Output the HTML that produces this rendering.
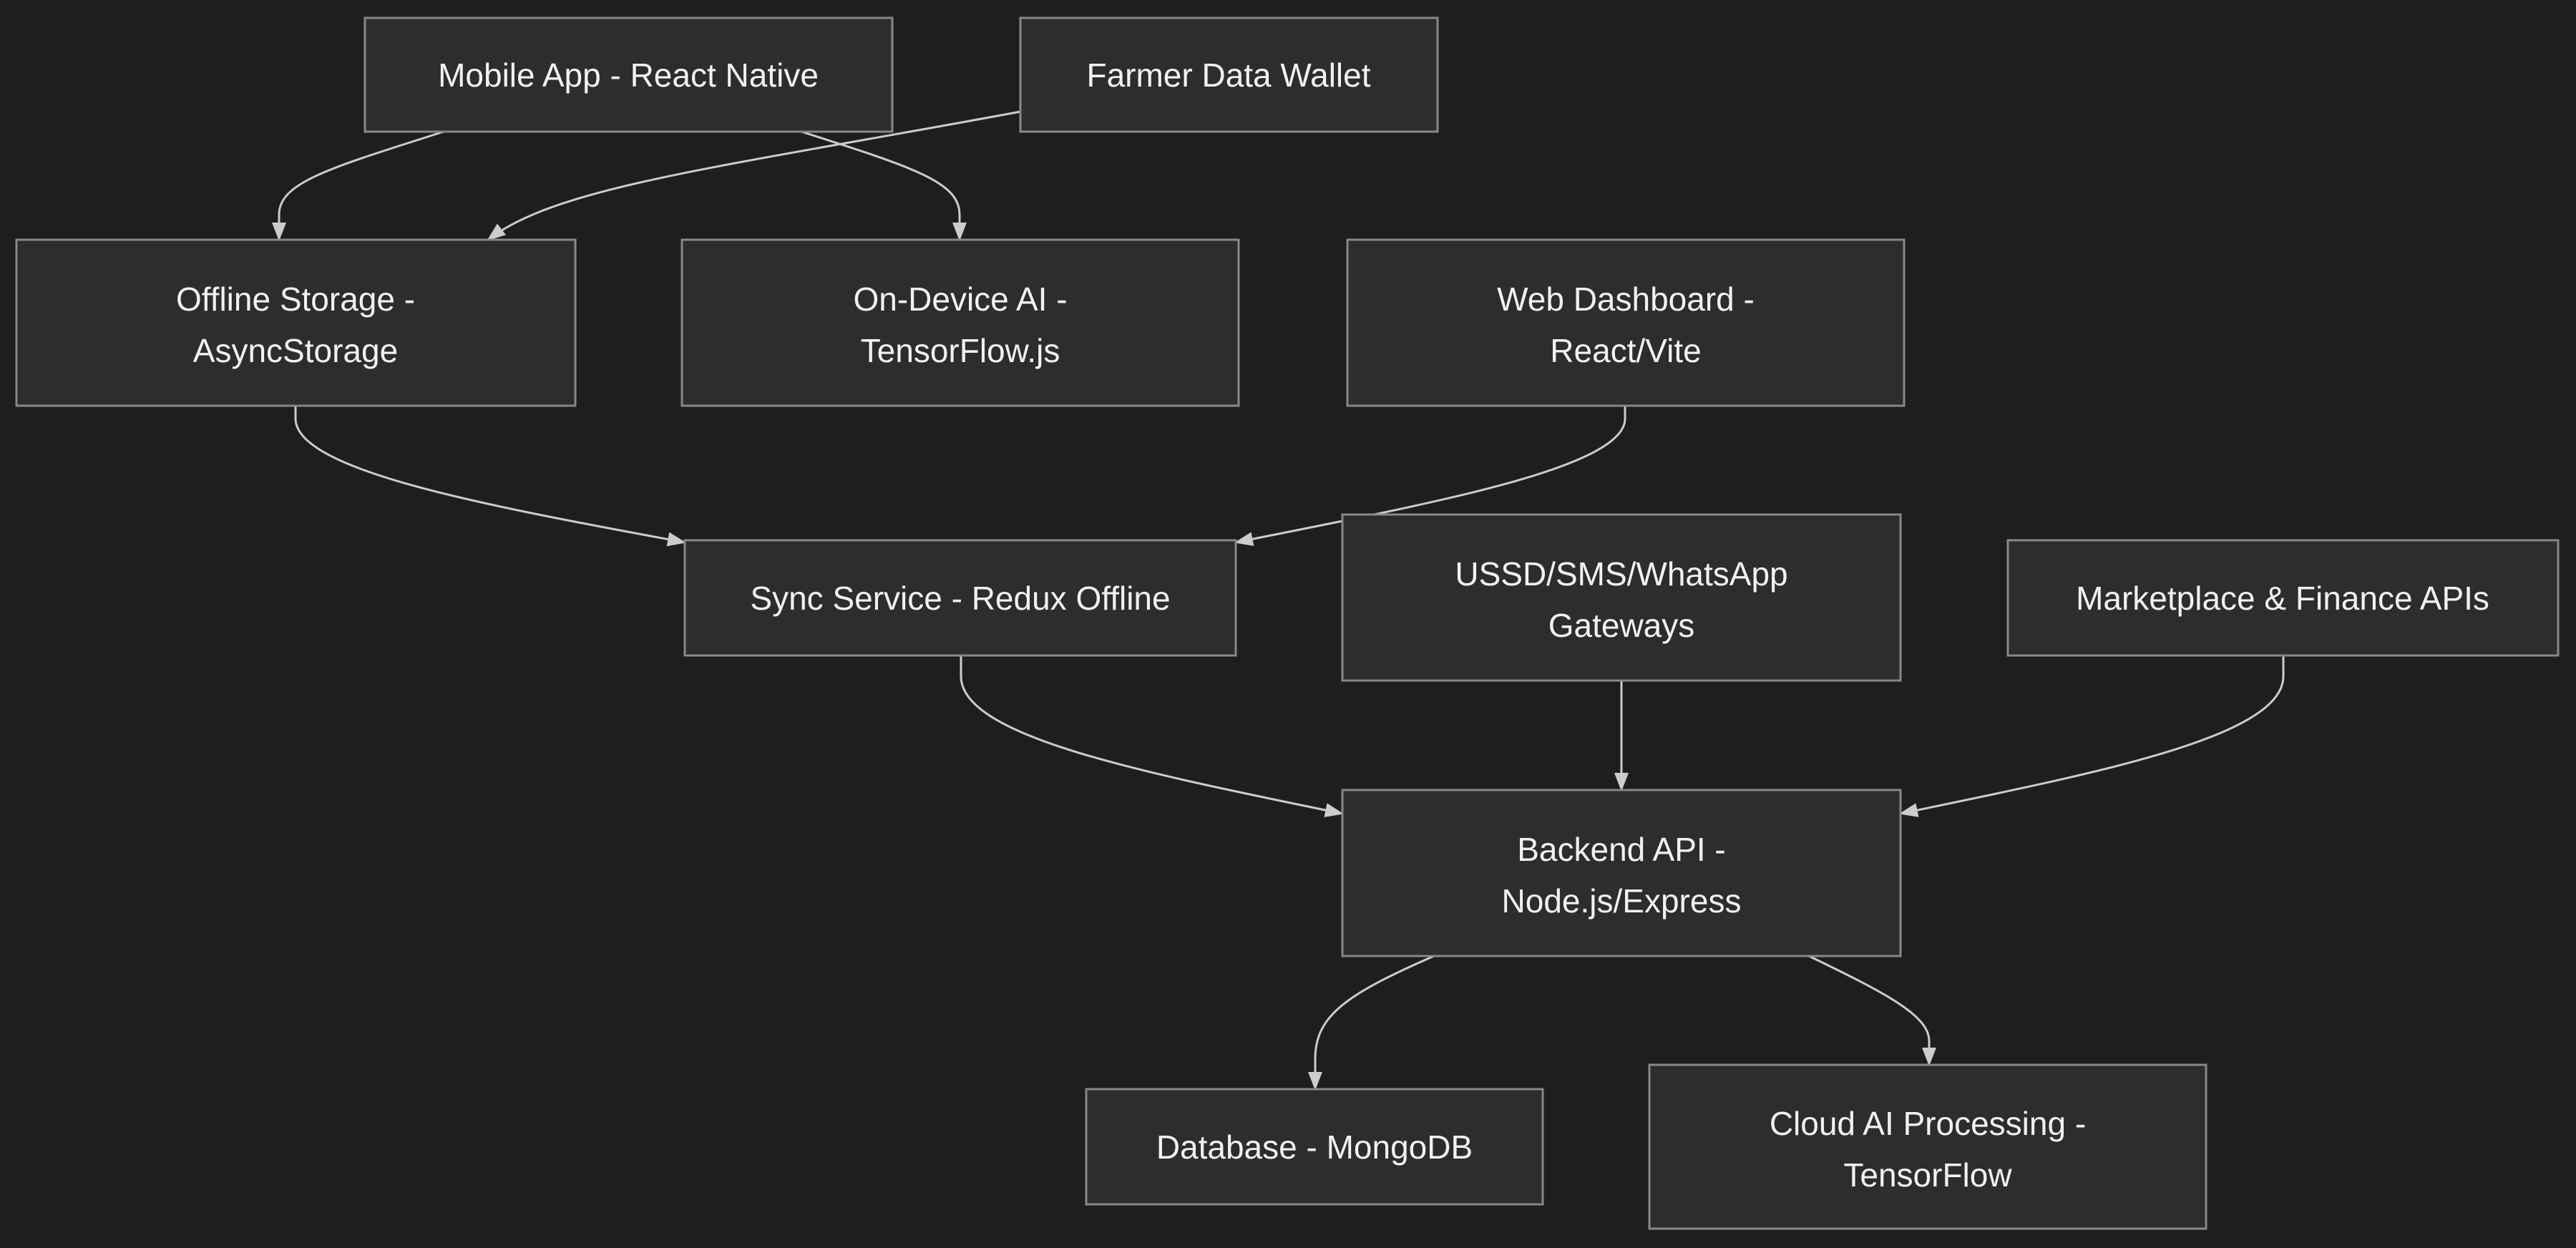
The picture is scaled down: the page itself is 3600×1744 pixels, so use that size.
<!DOCTYPE html>
<html><head><meta charset="utf-8"><style>
html,body{margin:0;padding:0;background:#1e1e1e;}
svg{display:block}
text{font-family:"Liberation Sans",sans-serif;font-size:46px;fill:#f2f2f2;text-anchor:middle;}
rect{fill:#2d2d2d;stroke:#888;stroke-width:3;}
path.e{fill:none;stroke:#cccccc;stroke-width:3;}
</style></head><body>
<svg width="3600" height="1744" viewBox="0 0 3600 1744" xmlns="http://www.w3.org/2000/svg">
<defs><marker id="a" markerUnits="userSpaceOnUse" markerWidth="26" markerHeight="26" refX="24" refY="10" orient="auto" viewBox="0 0 26 20"><path d="M0,0 L26,10 L0,20 z" fill="#cccccc"/></marker></defs>
<rect width="3600" height="1744" style="fill:#1e1e1e;stroke:none"/>
<path class="e" marker-end="url(#a)" d="M620,184 C460,235 390,255 390,300 L390,335"/>
<path class="e" marker-end="url(#a)" d="M1120,184 C1280,235 1341,255 1341,300 L1341,335"/>
<path class="e" marker-end="url(#a)" d="M1426,156 C1000,235 780,260 682,335"/>
<path class="e" marker-end="url(#a)" d="M413,567 L413,585 C413,660 700,710 957,758"/>
<path class="e" marker-end="url(#a)" d="M2271,567 L2271,585 C2271,655 1990,705 1727,758"/>
<path class="e" marker-end="url(#a)" d="M1343,916 L1343,945 C1343,1030 1600,1080 1876,1137"/>
<path class="e" marker-end="url(#a)" d="M2266,951 L2266,1104"/>
<path class="e" marker-end="url(#a)" d="M3191,916 L3191,945 C3191,1030 2930,1080 2656,1137"/>
<path class="e" marker-end="url(#a)" d="M2004,1336 C1880,1390 1838,1420 1838,1480 L1838,1522"/>
<path class="e" marker-end="url(#a)" d="M2528,1336 C2640,1390 2696,1420 2696,1455 L2696,1488"/>
<rect x="510" y="25" width="737" height="159"/><text x="878" y="121">Mobile App - React Native</text>
<rect x="1426" y="25" width="583" height="159"/><text x="1717" y="121">Farmer Data Wallet</text>
<rect x="23" y="335" width="781" height="232"/><text x="413" y="434">Offline Storage -</text><text x="413" y="506">AsyncStorage</text>
<rect x="953" y="335" width="778" height="232"/><text x="1342" y="434">On-Device AI -</text><text x="1342" y="506">TensorFlow.js</text>
<rect x="1883" y="335" width="778" height="232"/><text x="2272" y="434">Web Dashboard -</text><text x="2272" y="506">React/Vite</text>
<rect x="957" y="755" width="770" height="161"/><text x="1342" y="852">Sync Service - Redux Offline</text>
<rect x="1876" y="719" width="780" height="232"/><text x="2266" y="818">USSD/SMS/WhatsApp</text><text x="2266" y="890">Gateways</text>
<rect x="2806" y="755" width="769" height="161"/><text x="3190" y="852">Marketplace &amp; Finance APIs</text>
<rect x="1876" y="1104" width="780" height="232"/><text x="2266" y="1203">Backend API -</text><text x="2266" y="1275">Node.js/Express</text>
<rect x="1518" y="1522" width="638" height="161"/><text x="1837" y="1619">Database - MongoDB</text>
<rect x="2305" y="1488" width="778" height="229"/><text x="2694" y="1586">Cloud AI Processing -</text><text x="2694" y="1658">TensorFlow</text>
</svg>
</body></html>
